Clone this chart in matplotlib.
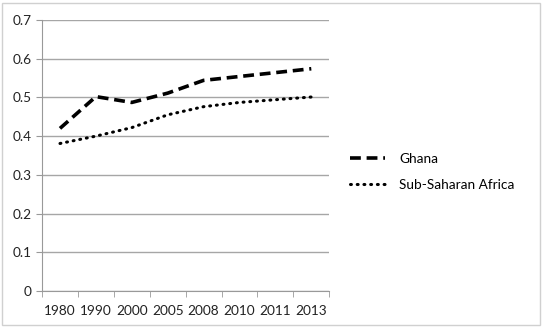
import matplotlib.pyplot as plt
import numpy as np
from matplotlib.patches import Rectangle

years = ['1980', '1990', '2000', '2005', '2008', '2010', '2011', '2013']
ghana = [0.420, 0.502, 0.487, 0.511, 0.544, 0.554, 0.564, 0.574]
ssa = [0.381, 0.400, 0.422, 0.455, 0.476, 0.487, 0.494, 0.501]

plt.rcParams['font.family'] = ['Lato', 'DejaVu Sans']

fig = plt.figure(figsize=(5.46, 3.27), dpi=100)
ax = fig.add_axes([0.077, 0.110, 0.526, 0.829])

x = np.arange(len(years))
ax.plot(x, ghana, color='black', lw=2.6, ls=(0, (3, 1.6)), label='Ghana')
ax.plot(x, ssa, color='black', lw=2.2, ls=(0, (0.3, 1.9)), dash_capstyle='round',
        label='Sub-Saharan Africa')

ax.set_xlim(-0.5, len(years) - 0.5)
ax.set_ylim(0, 0.7)
ax.set_yticks(np.arange(0, 0.71, 0.1))
ax.set_yticklabels(['0', '0.1', '0.2', '0.3', '0.4', '0.5', '0.6', '0.7'])
ax.set_xticks(x)
ax.set_xticklabels(years)
ax.set_xticks(np.arange(-0.5, len(years), 1), minor=True)
ax.tick_params(axis='x', which='major', length=0, labelsize=9.8, pad=10, colors='#222222')
ax.tick_params(axis='x', which='minor', length=4, color='#999999')
ax.tick_params(axis='y', length=4, color='#999999', labelsize=9.8, colors='#222222')
ax.grid(axis='y', color='#a6a6a6', lw=1)
ax.set_axisbelow(True)
for s in ['top', 'right']:
    ax.spines[s].set_visible(False)
ax.spines['left'].set_color('#999999')
ax.spines['bottom'].set_color('#999999')

ax.legend(loc='center left', bbox_to_anchor=(1.03, 0.44), frameon=False,
          fontsize=9.8, handlelength=2.6, handletextpad=1.0, labelspacing=1.0)

fig.patches.append(Rectangle((0.004, 0.006), 0.985, 0.985, transform=fig.transFigure,
                             fill=False, edgecolor='#d0d0d0', lw=1))

fig.savefig('out.png', dpi=100)
